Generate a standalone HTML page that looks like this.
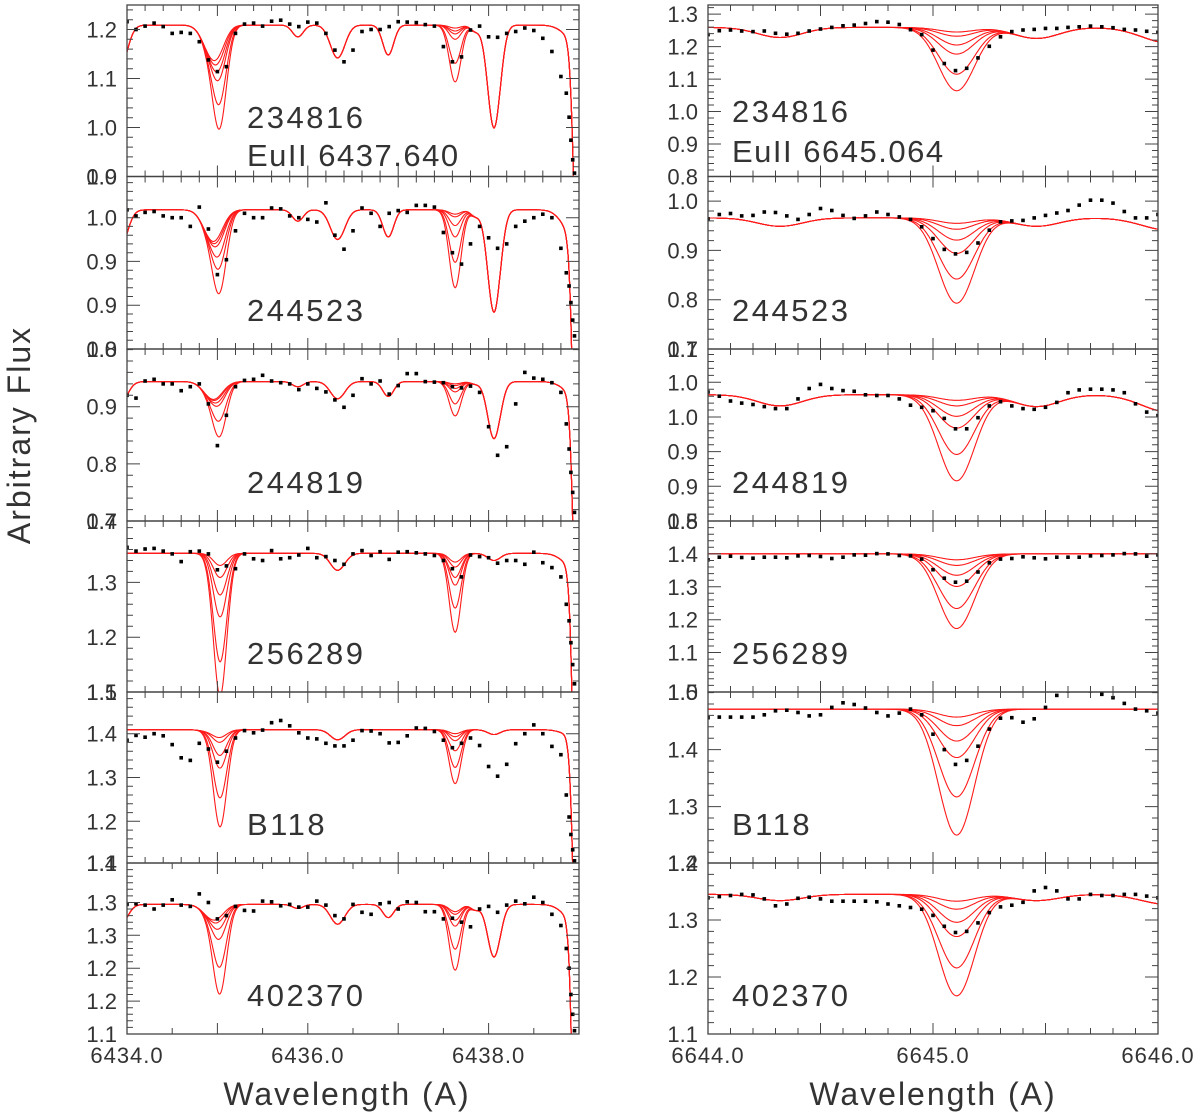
<!DOCTYPE html>
<html><head><meta charset="utf-8"><style>
html,body{margin:0;padding:0;background:#fff;width:1200px;height:1117px;overflow:hidden;}
svg{display:block;}
text{font-family:"Liberation Sans",sans-serif;fill:#333;}
</style></head><body>
<svg id="chart" width="1200" height="1117" viewBox="0 0 1200 1117" xmlns="http://www.w3.org/2000/svg"></svg>
<script>
// ---------- DATA ----------
const panelEdges = [5, 176.5, 349, 521, 692, 863, 1034];
const starNames = ["234816","244523","244819","256289","B118","402370"];

// Left column (Eu II 6437.640 region)
const leftRange = [6434.0, 6439.0];
const leftYLo = [0.9, 0.80, 0.7, 1.1, 1.105, 1.1];
const leftYHi = [1.25, 0.997, 1.001, 1.412, 1.495, 1.36];
const leftTickVals = [[1.0,1.1,1.2],[0.85,0.90,0.95],[0.8,0.9],[1.2,1.3],[1.2,1.3,1.4],[1.15,1.20,1.25,1.30]];
const leftTickLabels = [["1.0","1.1","1.2"],["0.9","0.9","1.0"],["0.8","0.9"],["1.2","1.3"],["1.2","1.3","1.4"],["1.2","1.2","1.3","1.3"]];
const leftMinorStep = [0.02,0.01,0.02,0.02,0.02,0.01];
const leftBottomLabel = ["0.9","0.8","0.7","1.1","1.1","1.1"];
const leftTopLabel = ["","1.0","1.0","1.4","1.5","1.4"];
const leftXLabels = ["6434.0","6436.0","6438.0"];
const leftXLabelVals = [6434,6436,6438];

const leftCont = [1.209,0.959,0.944,1.353,1.409,1.297];
const leftLineCenters = [6433.92,6434.95,6435.89,6436.33,6436.89,6437.85,6438.06,6438.95,6439.0];
const leftLineSigmas = [0.08,0.1,0.06,0.08,0.06,0.05,0.07,0.12,0.05];
const leftLineDepths = [
  [0.09,0.065,0.024,0.067,0.061,0.012,0.21,0.027,0.6],
  [0.045,0.035,0.013,0.034,0.031,0.007,0.117,0.03,0.5],
  [0.04,0.03,0.009,0.03,0.026,0.004,0.1,0.021,0.6],
  [0,0,0,0.031,0,0,0.013,0.025,0.8],
  [0,0.005,0,0.023,0,0,0.011,0.014,0.8],
  [0.033,0.022,0.006,0.03,0.02,0.008,0.08,0.024,0.8]
];
const leftEu1Center = 6435.03, leftEu1Sigma = 0.075;
const leftEu2Center = 6437.63, leftEu2Sigma = 0.065;
const leftEu1Depths = [
  [0.012,0.024,0.041,0.061,0.112,0.163],
  [0.002,0.006,0.011,0.025,0.04,0.069],
  [0.002,0.005,0.011,0.018,0.046,0.074],
  [0.022,0.044,0.076,0.116,0.198,0.26],
  [0.014,0.025,0.055,0.084,0.152,0.218],
  [0.003,0.009,0.02,0.036,0.079,0.12]
];
const leftEu2Depths = [
  [0.006,0.012,0.018,0.029,0.078,0.116],
  [0.005,0.008,0.018,0.031,0.06,0.089],
  [0.004,0.007,0.012,0.018,0.039,0.06],
  [0.016,0.025,0.044,0.058,0.1,0.144],
  [0.009,0.016,0.025,0.048,0.086,0.123],
  [0.011,0.015,0.024,0.033,0.068,0.1]
];
const obsWaveL = [6434.0,6434.1,6434.2,6434.3,6434.4,6434.5,6434.6,6434.7,6434.8,6434.9,
 6435.0,6435.1,6435.2,6435.3,6435.4,6435.5,6435.6,6435.7,6435.8,6435.9,
 6436.0,6436.1,6436.2,6436.3,6436.4,6436.5,6436.6,6436.7,6436.8,6436.9,
 6437.0,6437.1,6437.2,6437.3,6437.4,6437.5,6437.6,6437.7,6437.8,6437.9,
 6438.0,6438.1,6438.2,6438.3,6438.4,6438.5,6438.6,6438.7,6438.8,
 6438.86,6438.89,6438.91,6438.93,6438.95];
const obsL1 = [1.216,1.200,1.207,1.213,1.206,1.192,1.194,1.192,1.175,1.138,1.114,1.124,1.192,1.211,1.213,1.207,1.217,1.219,1.211,1.206,1.215,1.213,1.192,1.158,1.134,1.158,1.196,1.200,1.200,1.206,1.216,1.215,1.214,1.210,1.207,1.165,1.134,1.144,1.199,1.207,1.185,1.184,1.192,1.196,1.203,1.198,1.182,1.155,1.104,1.070,1.021,0.974,0.934,0.907];
const obsL2 = [0.959,0.952,0.956,0.957,0.952,0.950,0.950,0.940,0.962,0.937,0.885,0.902,0.935,0.955,0.950,0.950,0.961,0.960,0.952,0.950,0.948,0.945,0.967,0.930,0.914,0.935,0.961,0.955,0.940,0.955,0.958,0.956,0.964,0.964,0.962,0.933,0.910,0.897,0.920,0.940,0.927,0.915,0.920,0.940,0.946,0.950,0.954,0.950,0.915,0.887,0.872,0.853,0.833,0.815];
const obsL3 = [0.920,0.915,0.945,0.948,0.940,0.940,0.928,0.935,0.940,0.905,0.832,0.885,0.935,0.946,0.948,0.955,0.945,0.942,0.940,0.930,0.940,0.932,0.926,0.912,0.899,0.920,0.949,0.940,0.945,0.922,0.937,0.958,0.958,0.944,0.943,0.942,0.935,0.933,0.936,0.925,0.865,0.815,0.830,0.905,0.960,0.950,0.948,0.942,0.925,0.870,0.826,0.785,0.750,0.715];
const obsL4 = [1.364,1.357,1.361,1.362,1.357,1.352,1.338,1.356,1.357,1.352,1.323,1.330,1.325,1.352,1.343,1.340,1.358,1.343,1.345,1.350,1.362,1.345,1.347,1.340,1.333,1.352,1.358,1.349,1.356,1.342,1.355,1.356,1.354,1.352,1.349,1.340,1.325,1.310,1.350,1.347,1.345,1.335,1.340,1.340,1.333,1.355,1.336,1.327,1.310,1.260,1.230,1.190,1.150,1.115];
const obsL5 = [1.385,1.396,1.392,1.400,1.395,1.375,1.345,1.339,1.378,1.365,1.335,1.360,1.390,1.407,1.402,1.408,1.425,1.430,1.418,1.402,1.390,1.388,1.378,1.372,1.372,1.385,1.407,1.406,1.400,1.379,1.380,1.395,1.413,1.412,1.405,1.385,1.368,1.378,1.390,1.373,1.325,1.303,1.330,1.377,1.400,1.420,1.400,1.371,1.352,1.260,1.210,1.170,1.135,1.110];
const obsL6 = [1.297,1.298,1.296,1.290,1.296,1.304,1.296,1.294,1.313,1.300,1.275,1.280,1.294,1.288,1.287,1.302,1.301,1.295,1.297,1.293,1.293,1.302,1.296,1.280,1.275,1.297,1.285,1.282,1.298,1.300,1.290,1.301,1.300,1.286,1.286,1.275,1.276,1.270,1.263,1.290,1.294,1.285,1.296,1.302,1.298,1.308,1.300,1.282,1.265,1.230,1.200,1.160,1.130,1.105];
const obsLeft = [obsL1,obsL2,obsL3,obsL4,obsL5,obsL6];

// Right column (Eu II 6645.064 region)
const rightRange = [6644.0, 6646.0];
const rightYLo = [0.8, 0.7, 0.8, 0.98, 1.201, 1.1];
const rightYHi = [1.328, 1.05, 1.048, 1.5, 1.501, 1.40];
const rightTickVals = [[0.9,1.0,1.1,1.2,1.3],[0.8,0.9,1.0],[0.85,0.90,0.95,1.00],[1.1,1.2,1.3,1.4],[1.3,1.4],[1.2,1.3]];
const rightTickLabels = [["0.9","1.0","1.1","1.2","1.3"],["0.8","0.9","1.0"],["0.9","0.9","1.0","1.0"],["1.1","1.2","1.3","1.4"],["1.3","1.4"],["1.2","1.3"]];
const rightMinorStep = [0.02,0.02,0.01,0.02,0.02,0.02];
const rightBottomLabel = ["0.8","0.7","0.8","1.0","1.2","1.1"];
const rightTopLabel = ["","","1.1","1.5","1.5","1.4"];
const rightXLabels = ["6644.0","6645.0","6646.0"];
const rightXLabelVals = [6644,6645,6646];

const rightCont = [1.259,0.966,0.982,1.400,1.471,1.345];
const rightLineCenters = [6644.32,6645.46,6646.05];
const rightLineSigmas = [0.1,0.1,0.12];
const rightLineDepths = [
  [0.031,0.034,0.048],[0.017,0.017,0.025],[0.016,0.017,0.025],
  [0,0,0],[0,0,0],[0.011,0.011,0.018]
];
const rightEuCenter = 6645.105, rightEuSigma = 0.08;
const rightEuDepths = [
  [0.014,0.027,0.054,0.082,0.144,0.195],
  [0.011,0.023,0.045,0.072,0.124,0.173],
  [0.008,0.016,0.031,0.048,0.086,0.124],
  [0.018,0.035,0.065,0.099,0.166,0.227],
  [0.014,0.029,0.056,0.085,0.154,0.221],
  [0.012,0.026,0.049,0.074,0.129,0.178]
];
const obsWaveR = [6644.00,6644.05,6644.10,6644.15,6644.20,6644.25,6644.30,6644.35,6644.40,6644.45,
 6644.50,6644.55,6644.60,6644.65,6644.70,6644.75,6644.80,6644.85,6644.90,6644.95,
 6645.00,6645.05,6645.10,6645.15,6645.20,6645.25,6645.30,6645.35,6645.40,6645.45,
 6645.50,6645.55,6645.60,6645.65,6645.70,6645.75,6645.80,6645.85,6645.90,6645.95,6646.00];
const obsR1 = [1.237,1.249,1.251,1.248,1.246,1.248,1.241,1.238,1.241,1.248,1.254,1.259,1.264,1.266,1.271,1.277,1.275,1.268,1.252,1.237,1.189,1.148,1.126,1.133,1.165,1.201,1.230,1.246,1.251,1.253,1.256,1.256,1.259,1.261,1.263,1.261,1.258,1.253,1.251,1.247,1.244];
const obsR2 = [0.964,0.973,0.975,0.970,0.971,0.978,0.977,0.970,0.963,0.973,0.985,0.981,0.971,0.965,0.970,0.978,0.973,0.968,0.963,0.948,0.924,0.902,0.893,0.896,0.915,0.941,0.958,0.960,0.961,0.966,0.971,0.976,0.981,0.992,1.002,1.002,0.996,0.979,0.966,0.966,0.973];
const obsR3 = [0.986,0.980,0.973,0.970,0.968,0.965,0.962,0.962,0.976,0.991,0.997,0.991,0.988,0.987,0.982,0.981,0.981,0.976,0.967,0.964,0.959,0.948,0.933,0.933,0.949,0.966,0.972,0.966,0.962,0.961,0.964,0.971,0.985,0.989,0.990,0.990,0.989,0.985,0.969,0.957,0.952];
const obsR4 = [1.382,1.390,1.393,1.389,1.387,1.390,1.390,1.388,1.394,1.395,1.392,1.386,1.390,1.397,1.396,1.401,1.400,1.395,1.394,1.384,1.352,1.326,1.314,1.317,1.345,1.373,1.384,1.386,1.391,1.388,1.385,1.390,1.390,1.390,1.394,1.395,1.397,1.401,1.400,1.393,1.397];
const obsR5 = [1.456,1.457,1.457,1.457,1.457,1.461,1.468,1.469,1.465,1.459,1.461,1.474,1.482,1.479,1.473,1.465,1.459,1.464,1.471,1.461,1.427,1.400,1.374,1.381,1.406,1.436,1.455,1.456,1.448,1.454,1.474,1.495,1.503,1.505,1.503,1.497,1.491,1.481,1.471,1.468,1.464];
const obsR6 = [1.339,1.341,1.343,1.345,1.344,1.337,1.325,1.328,1.338,1.340,1.337,1.333,1.333,1.333,1.333,1.332,1.328,1.325,1.322,1.319,1.308,1.289,1.278,1.280,1.295,1.313,1.323,1.326,1.331,1.351,1.357,1.351,1.337,1.337,1.345,1.343,1.343,1.345,1.345,1.342,1.339];
const obsRight = [obsR1,obsR2,obsR3,obsR4,obsR5,obsR6];

// ---------- RENDER ----------
const NS = "http://www.w3.org/2000/svg";
const svg = document.getElementById("chart");
function mk(tag, attrs, parent){
  const e = document.createElementNS(NS, tag);
  for (const k in attrs) e.setAttribute(k, attrs[k]);
  (parent || svg).appendChild(e);
  return e;
}
function gauss(x,c,s){ const d=x-c; return Math.exp(-d*d/(2*s*s)); }

const cols = [
  {side:"left", x0:127, x1:579, range:leftRange, yLo:leftYLo, yHi:leftYHi, tv:leftTickVals, tl:leftTickLabels, minor:leftMinorStep,
   bl:leftBottomLabel, tlab:leftTopLabel, xl:leftXLabels, xv:leftXLabelVals, major:1.0, minorX:[0.2,0.2,0.2,0.2,0.2,0.5],
   obsW:obsWaveL, obs:obsLeft, nameX:247, titleX:347},
  {side:"right", x0:708, x1:1158, range:rightRange, yLo:rightYLo, yHi:rightYHi, tv:rightTickVals, tl:rightTickLabels, minor:rightMinorStep,
   bl:rightBottomLabel, tlab:rightTopLabel, xl:rightXLabels, xv:rightXLabelVals, major:0.5, minorX:[0.1,0.1,0.1,0.1,0.1,0.1],
   obsW:obsWaveR, obs:obsRight, nameX:732, titleX:933}
];

function modelLeft(p, k, w){
  let f = leftCont[p];
  for (let i=0;i<leftLineCenters.length;i++) f -= leftLineDepths[p][i]*gauss(w,leftLineCenters[i],leftLineSigmas[i]);
  f -= leftEu1Depths[p][k]*gauss(w,leftEu1Center,leftEu1Sigma);
  f -= leftEu2Depths[p][k]*gauss(w,leftEu2Center,leftEu2Sigma);
  return f;
}
function modelRight(p, k, w){
  let f = rightCont[p];
  for (let i=0;i<rightLineCenters.length;i++) f -= rightLineDepths[p][i]*gauss(w,rightLineCenters[i],rightLineSigmas[i]);
  f -= rightEuDepths[p][k]*gauss(w,rightEuCenter,rightEuSigma);
  return f;
}

cols.forEach((c, ci) => {
  const xScale = w => c.x0 + (w - c.range[0])/(c.range[1]-c.range[0])*(c.x1-c.x0);
  for (let p=0;p<6;p++){
    const top = panelEdges[p], bot = panelEdges[p+1];
    const yScale = v => bot - (v - c.yLo[p])/(c.yHi[p]-c.yLo[p])*(bot-top);
    const g = mk("g", {});
    
    
    const cid = "clip-" + c.side + p;
    const cp = mk("clipPath", {id:cid}, g);
    mk("rect", {x:c.x0, y:top, width:c.x1-c.x0, height:bot-top}, cp);

    const mg = mk("g", {"clip-path":"url(#"+cid+")"}, g);
    
    
    for (let k=0;k<6;k++){
      let d = "";
      const n = 500;
      for (let i=0;i<=n;i++){
        const w = c.range[0] + (c.range[1]-c.range[0])*i/n;
        const f = ci===0 ? modelLeft(p,k,w) : modelRight(p,k,w);
        d += (i?"L":"M") + xScale(w).toFixed(1) + "," + yScale(f).toFixed(1);
      }
      const path = mk("path", {d:d, fill:"none", stroke:"#ff1a1a", "stroke-width":"1.1"}, mg);
      
      
    }
    const og = mk("g", {"clip-path":"url(#"+cid+")"}, g);
    
    
    const arr = c.obs[p];
    for (let i=0;i<arr.length;i++){
      const dot = mk("rect", {x:(xScale(c.obsW[i])-1.8).toFixed(1), y:(yScale(arr[i])-1.8).toFixed(1), width:3.6, height:3.6, fill:"#000"}, og);
      
      
    }
    const fr = mk("rect", {x:c.x0, y:top, width:c.x1-c.x0, height:bot-top, fill:"none", stroke:"#444", "stroke-width":"1.3"}, g);
    
    
    let td = "";
    const mstep = c.minorX[p];
    const nMin = Math.round((c.range[1]-c.range[0])/mstep);
    for (let i=0;i<=nMin;i++){
      const w = c.range[0] + i*mstep;
      const isMaj = Math.abs(w/c.major - Math.round(w/c.major)) < 1e-6;
      const L = isMaj ? 11 : 6;
      const x = xScale(w).toFixed(1);
      td += "M"+x+","+top+"v"+L+"M"+x+","+bot+"v"+(-L);
    }
    const ms = c.minor[p];
    const startV = Math.ceil(c.yLo[p]/ms - 1e-6)*ms;
    for (let v=startV; v<=c.yHi[p]+1e-9; v+=ms){
      const y = yScale(v).toFixed(1);
      const isMaj = c.tv[p].some(t => Math.abs(t-v)<ms/3);
      const L = isMaj ? 13 : 6;
      td += "M"+c.x0+","+y+"h"+L+"M"+c.x1+","+y+"h"+(-L);
    }
    const tp = mk("path", {d:td, stroke:"#444", "stroke-width":"1", fill:"none"}, g);
    
    
    for (let i=0;i<c.tv[p].length;i++){
      const t = mk("text", {x:c.x0-10, y:yScale(c.tv[p][i])+8, "text-anchor":"end", "font-size":"22"}, g);
      t.textContent = c.tl[p][i];
      
      
    }
    const tb = mk("text", {x:c.x0-10, y:bot+8, "text-anchor":"end", "font-size":"22"}, g);
    tb.textContent = c.bl[p];
    
    
    if (c.tlab[p]){
      const tt = mk("text", {x:c.x0-10, y:top+8, "text-anchor":"end", "font-size":"22"}, g);
      tt.textContent = c.tlab[p];
      
      
    }
    const nameY = p===0 ? (ci===0 ? 128 : 122) : bot - 28;
    const nm = mk("text", {x:c.nameX, y:nameY, "font-size":"31", "letter-spacing":"2.5"}, g);
    nm.textContent = starNames[p];
    
    
    if (p===0){
      const eu = mk("text", {x:c.nameX, y:ci===0?166:162, "font-size":"31", "letter-spacing":"1.5"}, g);
      eu.textContent = ci===0 ? "EuII 6437.640" : "EuII 6645.064";
      
      
    }
  }
  for (let i=0;i<c.xl.length;i++){
    const t = mk("text", {x:xScale(c.xv[i]), y:1063, "text-anchor":"middle", "font-size":"22", "letter-spacing":"1"});
    t.textContent = c.xl[i];
    
    
  }
  const xt = mk("text", {x:c.titleX, y:1105, "text-anchor":"middle", "font-size":"32", "letter-spacing":"2"});
  xt.textContent = "Wavelength (A)";
  
  
});
const yt = mk("text", {x:0, y:0, "text-anchor":"middle", "font-size":"32", "letter-spacing":"2", transform:"translate(30,435) rotate(-90)"});
yt.textContent = "Arbitrary Flux";


</script>
</body></html>
